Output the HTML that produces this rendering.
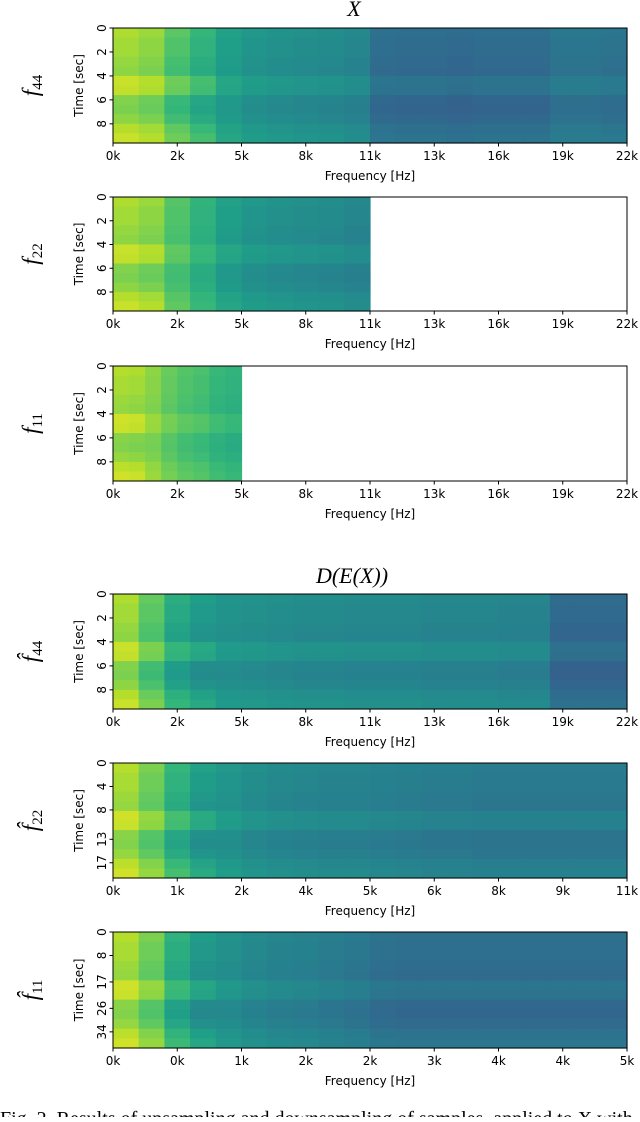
<!DOCTYPE html>
<html><head><meta charset="utf-8"><style>
body{margin:0;background:#fff;width:640px;height:1117px;overflow:hidden}
svg text{font-family:"DejaVu Sans","Liberation Sans",sans-serif}
.ser{font-family:"Liberation Serif","DejaVu Serif",serif;font-style:italic}
</style></head><body>
<svg id="fig" width="640" height="1117" xmlns="http://www.w3.org/2000/svg"></svg>
<script>
// ---- data ----
const xTicks22 = ["0k","2k","5k","8k","11k","13k","16k","19k","22k"];
const xTicks11 = ["0k","1k","2k","4k","5k","6k","8k","9k","11k"];
const xTicks5 = ["0k","0k","1k","2k","2k","3k","4k","4k","5k"];
const yTicksSec = [0,2,4,6,8];
const yTicks22 = [0,4,8,13,17];
const yTicks11 = [0,8,17,26,34];
const freqX44 = [0.86,0.83,0.72,0.64,0.56,0.52,0.5,0.49,0.48,0.46,0.36,0.35,0.35,0.34,0.35,0.35,0.35,0.39,0.39,0.38];
const freqX22 = [0.86,0.83,0.72,0.64,0.56,0.52,0.5,0.49,0.48,0.46];
const freqX11 = [0.87,0.86,0.82,0.76,0.72,0.7,0.66,0.64];
const freqD44 = [0.86,0.74,0.6,0.54,0.51,0.5,0.49,0.48,0.48,0.47,0.47,0.47,0.46,0.46,0.46,0.45,0.45,0.34,0.34,0.34];
const freqD22 = [0.87,0.78,0.64,0.55,0.52,0.49,0.47,0.46,0.45,0.45,0.44,0.43,0.42,0.42,0.41,0.41,0.41,0.41,0.41,0.41];
const freqD11 = [0.87,0.78,0.62,0.53,0.5,0.47,0.45,0.44,0.42,0.4,0.37,0.36,0.36,0.36,0.36,0.36,0.36,0.36,0.36,0.36];
const timeProfile = [0.02,0.0,0.0,-0.02,-0.03,0.06,0.05,-0.05,-0.06,-0.03,0.03,0.06];

const NS="http://www.w3.org/2000/svg";
const svg=document.getElementById('fig');
function mk(tag,attrs,parent){const e=document.createElementNS(NS,tag);for(const k in attrs)e.setAttribute(k,attrs[k]);(parent||svg).appendChild(e);return e;}
const vir=[[68,1,84],[72,40,120],[62,74,137],[49,104,142],[38,130,142],[31,158,137],[53,183,121],[109,205,89],[180,222,44],[253,231,37]];
function cmap(v){v=Math.max(0,Math.min(1,v))*9;const i=Math.min(8,Math.floor(v)),t=v-i;const a=vir[i],b=vir[i+1];return `rgb(${a.map((c,k)=>Math.round(c+(b[k]-c)*t)).join(',')})`;}

const L=113,R=627;
function panel(o){
  const g=mk('g',{});
  
  
  const W=R-L,H=o.bot-o.top;
  const xs=f=>L+f*W;
  const dataW=W*o.extent;
  const cw=dataW/o.freq.length, rh=H/timeProfile.length;
  o.freq.forEach((fv,j)=>{
    timeProfile.forEach((tv,i)=>{
      const w=j<o.freq.length*0.2?1:0.5;
      const r=mk('rect',{x:L+j*cw,y:o.top+i*rh,width:cw+0.6,height:rh+0.6,fill:cmap(fv+tv*w)},g);
      
      
    });
  });
  const fr=mk('rect',{x:L,y:o.top,width:W,height:H,fill:'none',stroke:'#000','stroke-width':1},g);
  
  
  o.xt.forEach((t,i)=>{
    const x=xs(i/(o.xt.length-1));
    mk('line',{x1:x,x2:x,y1:o.bot,y2:o.bot+3.5,stroke:'#000'},g);
    const tx=mk('text',{x:x,y:o.bot+17,'font-size':12,'text-anchor':'middle'},g);tx.textContent=t;
    
    
  });
  o.yt.forEach((t,i)=>{
    const y=o.top+o.yfr[i]*H;
    mk('line',{x1:L,x2:L-3.5,y1:y,y2:y,stroke:'#000'},g);
    const tx=mk('text',{x:0,y:0,'font-size':12,'text-anchor':'middle',transform:`translate(${L-7},${y}) rotate(-90)`},g);tx.textContent=t;
    
    
  });
  const xl=mk('text',{x:(L+R)/2,y:o.bot+37,'font-size':12,'text-anchor':'middle'},g);xl.textContent='Frequency [Hz]';
  
  
  const yl=mk('text',{x:0,y:0,'font-size':12,'text-anchor':'middle',transform:`translate(${L-30},${(o.top+o.bot)/2}) rotate(-90)`},g);yl.textContent='Time [sec]';
  
  
  const rl=mk('text',{x:0,y:0,'font-size':23,'text-anchor':'middle',class:'ser',transform:`translate(${38},${(o.top+o.bot)/2}) rotate(-90)`},g);
  rl.innerHTML=o.label;
  
  
}
const secFr=yTicksSec.map(v=>v/9.6);
panel({name:'panel-x-f44',top:28,bot:143,freq:freqX44,extent:1,xt:xTicks22,yt:yTicksSec,yfr:secFr,label:'f<tspan font-size="15" dy="4" font-style="normal">44</tspan>'});
panel({name:'panel-x-f22',top:197,bot:311,freq:freqX22,extent:0.5,xt:xTicks22,yt:yTicksSec,yfr:secFr,label:'f<tspan font-size="15" dy="4" font-style="normal">22</tspan>'});
panel({name:'panel-x-f11',top:366,bot:481,freq:freqX11,extent:0.25,xt:xTicks22,yt:yTicksSec,yfr:secFr,label:'f<tspan font-size="15" dy="4" font-style="normal">11</tspan>'});
panel({name:'panel-d-f44',top:594,bot:709,freq:freqD44,extent:1,xt:xTicks22,yt:yTicksSec,yfr:secFr,label:'f\u0302<tspan font-size="15" dy="4" font-style="normal">44</tspan>'});
panel({name:'panel-d-f22',top:763,bot:878,freq:freqD22,extent:1,xt:xTicks11,yt:yTicks22,yfr:yTicks22.map(v=>v/19.6),label:'f\u0302<tspan font-size="15" dy="4" font-style="normal">22</tspan>'});
panel({name:'panel-d-f11',top:932,bot:1048,freq:freqD11,extent:1,xt:xTicks5,yt:yTicks11,yfr:yTicks11.map(v=>v/39.5),label:'f\u0302<tspan font-size="15" dy="4" font-style="normal">11</tspan>'});
const t1=mk('text',{x:354,y:16,'font-size':22,'text-anchor':'middle',class:'ser'});t1.textContent='X';


const t2=mk('text',{x:352,y:583,'font-size':22,'text-anchor':'middle',class:'ser'});t2.textContent='D(E(X))';


const cap=mk('text',{x:0,y:1125,'font-size':20,style:'font-family:"Liberation Serif",serif'});cap.textContent='Fig. 2.   Results of upsampling and downsampling of samples, applied to X with';


</script>
</body></html>
